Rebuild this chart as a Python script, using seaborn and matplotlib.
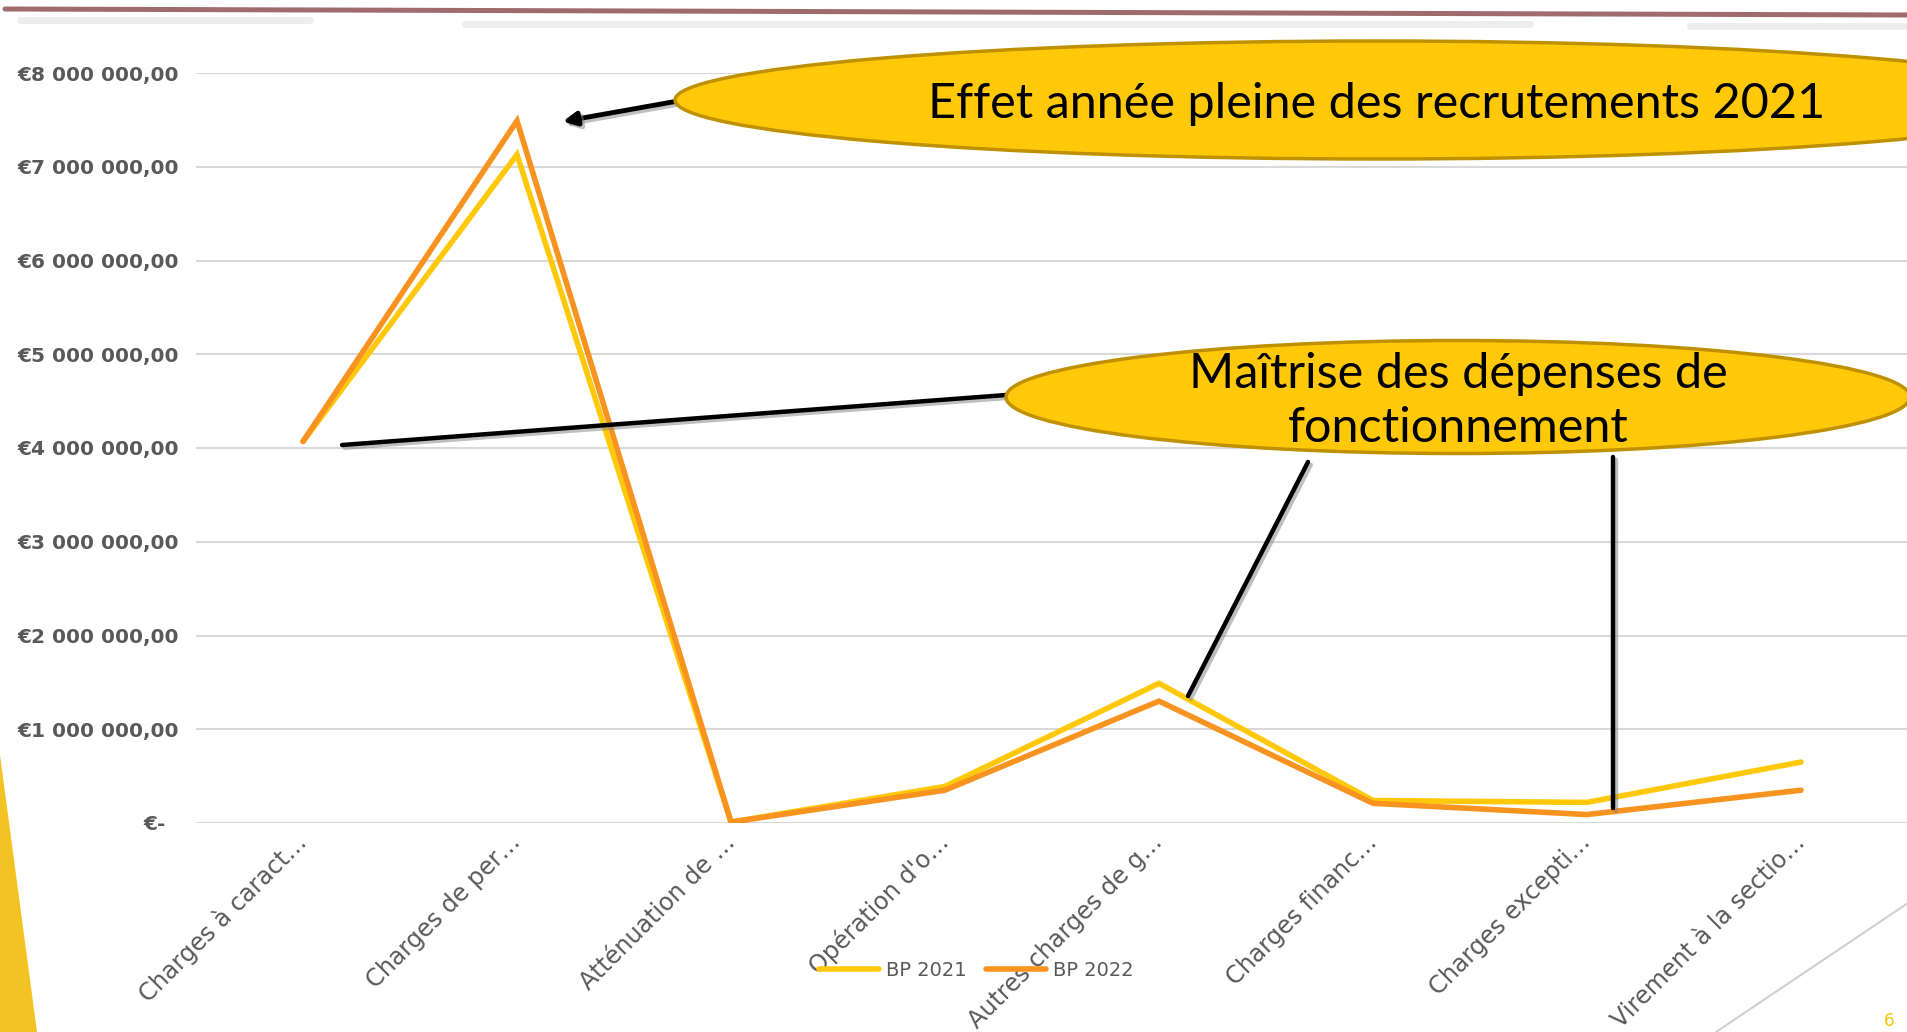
import matplotlib
matplotlib.use("Agg")
import matplotlib.pyplot as plt
import matplotlib.patheffects as pe
from matplotlib.patches import Ellipse, Polygon
import pandas as pd
import seaborn as sns

# data
categories = ["Charges à caract\u2026", "Charges de per\u2026", "Atténuation de \u2026",
              "Opération d'o\u2026", "Autres charges de g\u2026", "Charges financ\u2026",
              "Charges excepti\u2026", "Virement à la sectio\u2026"]
bp_2021 = [4.07e6, 7.13e6, 0.01e6, 0.39e6, 1.49e6, 0.24e6, 0.22e6, 0.65e6]
bp_2022 = [4.07e6, 7.49e6, 0.01e6, 0.35e6, 1.30e6, 0.21e6, 0.09e6, 0.35e6]
series_names = ["BP 2021", "BP 2022"]
y_ticks = [0, 1e6, 2e6, 3e6, 4e6, 5e6, 6e6, 7e6, 8e6]

note_top = "Effet année pleine des recrutements 2021"
note_mid = "Maîtrise des dépenses de\nfonctionnement"
page_no = "6"

df = pd.DataFrame({
    "cat": categories * 2,
    "value": bp_2021 + bp_2022,
    "serie": [series_names[0]] * len(categories) + [series_names[1]] * len(categories),
})

sns.set_style("white")
plt.rcParams["font.family"] = ["DejaVu Sans"]

W, H = 1908, 1032
fig = plt.figure(figsize=(W / 100, H / 100), dpi=100)
ax = fig.add_axes([196 / W, 1 - 823 / H, 1.0 - 196 / W, (823 - 73) / H])

palette = {"BP 2021": "#FFC90A", "BP 2022": "#F7931E"}
sns.lineplot(data=df, x="cat", y="value", hue="serie", palette=palette, sort=False,
             lw=4, ax=ax)
for ln in ax.get_lines():
    ln.set_solid_capstyle("round")
    ln.set_solid_joinstyle("miter")

ax.set_xlim(-0.5, len(categories) - 0.5)
ax.set_ylim(0, 8e6)
ax.set_yticks(y_ticks)


def euro(v):
    if v == 0:
        return "€-  "
    return "€" + f"{v:,.2f}".replace(",", " ").replace(".", ",")


ax.set_yticklabels([euro(v) for v in y_ticks], fontsize=14.5, fontweight="bold", color="#595959")
ax.set_xticks(range(len(categories)))
ax.set_xticklabels(categories, rotation=45, ha="right", va="center", rotation_mode="anchor",
                   fontsize=17.2, color="#595959")
ax.tick_params(axis="y", length=0, pad=12)
ax.tick_params(axis="x", length=0, pad=11)
ax.grid(axis="y", color="#D9D9D9", lw=1.5)
ax.set_axisbelow(True)
for s in ax.spines.values():
    s.set_visible(False)
ax.set_xlabel("")
ax.set_ylabel("")

sns.move_legend(ax, "center", bbox_to_anchor=(976 / W, 1 - 970 / H), bbox_transform=fig.transFigure,
                ncol=2, frameon=False, title=None, fontsize=14, handlelength=3.1,
                handletextpad=0.35, columnspacing=1.0)
for t in ax.get_legend().get_texts():
    t.set_color("#595959")
for h in ax.get_legend().get_lines():
    h.set_linewidth(4)

# overlay in pixel coordinates for the slide decorations
ov = fig.add_axes([0, 0, 1, 1], zorder=5)
ov.set_xlim(0, W)
ov.set_ylim(H, 0)
ov.axis("off")
ov.patch.set_alpha(0)

shadow = [pe.SimpleLineShadow(offset=(2, -2), shadow_color="gray", alpha=0.5), pe.Normal()]

# top rule of the slide
ov.plot([5, W], [9, 15], color="#A06B6E", lw=3.6, solid_capstyle="round", zorder=3)
ov.plot([20, 310], [20, 20], color="#E6E6E6", lw=5, alpha=0.7, zorder=2)
ov.plot([465, 1530], [24, 24], color="#E6E6E6", lw=5, alpha=0.7, zorder=2)
ov.plot([1690, W], [26, 26], color="#E6E6E6", lw=5, alpha=0.7, zorder=2)

# yellow wedge bottom left, gray diagonal bottom right
ov.add_patch(Polygon([[0, 755], [37, H], [0, H]], closed=True, fc="#F2C322", ec="none"))
ov.plot([1716, W], [H, 903], color="#D0D0D0", lw=1.5)
ov.text(1884, 1030, page_no, color="#F5C400", fontsize=12, va="bottom", ha="left")

# callout 1
ov.annotate("", xy=(560, 122), xytext=(678, 101),
            arrowprops=dict(arrowstyle="-|>", lw=3.5, color="black", mutation_scale=20,
                            path_effects=shadow))
ov.add_patch(Ellipse((1377, 100), 1404, 118, fc="#FFC90A", ec="#BF9000", lw=2.5, zorder=4))
ov.text(1377, 104, note_top, ha="center", va="center", fontsize=35, family="Lato",
        color="black", zorder=5)

# callout 2 and its pointers
for (x0, y0), (x1, y1) in [((1006, 395), (342, 445)), ((1308, 462), (1188, 696)),
                           ((1613, 457), (1613, 808))]:
    ov.plot([x0, x1], [y0, y1], color="black", lw=3.2, solid_capstyle="round",
            path_effects=shadow, zorder=3)
ov.add_patch(Ellipse((1458, 397), 904, 113, fc="#FFC90A", ec="#BF9000", lw=2.5, zorder=4))
ov.text(1458, 401, note_mid, ha="center", va="center", fontsize=35, family="Lato",
        color="black", linespacing=1.3, zorder=5)

fig.savefig("out.png", dpi=100)
